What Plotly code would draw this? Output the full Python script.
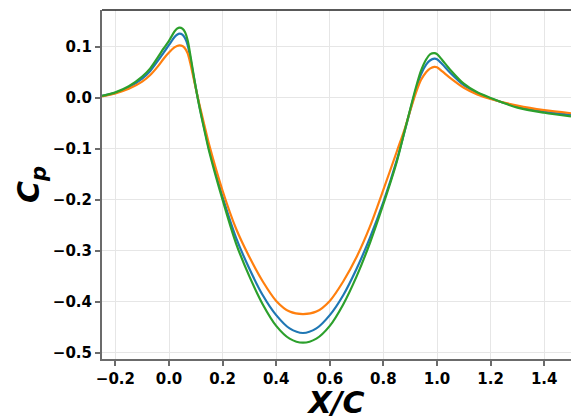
import plotly.graph_objects as go

x_c = [-0.25, -0.2, -0.15, -0.1, -0.07, -0.04, -0.02, 0.0,
       0.02, 0.03, 0.04, 0.05, 0.06, 0.07, 0.08, 0.09, 0.1,
       0.11, 0.12, 0.135, 0.15,
       0.2, 0.25, 0.3, 0.35, 0.4, 0.45, 0.5,
       0.55, 0.6, 0.65, 0.7, 0.75, 0.8, 0.85,
       0.88, 0.9, 0.92, 0.94, 0.96, 0.975, 0.99,
       1.0, 1.02, 1.05, 1.1, 1.15, 1.2, 1.3, 1.4, 1.5]

cp_blue = [0.004, 0.010, 0.021, 0.038, 0.053, 0.074, 0.089, 0.104,
           0.119, 0.124, 0.126, 0.124, 0.117, 0.103, 0.077, 0.048, 0.020,
           -0.007, -0.032, -0.067, -0.101,
           -0.194, -0.274, -0.335, -0.387, -0.426, -0.452, -0.461,
           -0.452, -0.426, -0.387, -0.335, -0.274, -0.204, -0.122,
           -0.064, -0.024, 0.014, 0.046, 0.066, 0.074, 0.077,
           0.076, 0.066, 0.049, 0.025, 0.010, -0.001, -0.017, -0.027, -0.033]

cp_orange = [0.003, 0.009, 0.018, 0.032, 0.045, 0.063, 0.077, 0.089,
             0.099, 0.102, 0.103, 0.102, 0.097, 0.087, 0.067, 0.043, 0.019,
             -0.005, -0.027, -0.060, -0.092,
             -0.182, -0.256, -0.312, -0.360, -0.398, -0.419, -0.424,
             -0.419, -0.398, -0.360, -0.312, -0.252, -0.180, -0.105,
             -0.060, -0.025, 0.008, 0.035, 0.051, 0.058, 0.061,
             0.060, 0.052, 0.039, 0.020, 0.007, -0.002, -0.015, -0.024, -0.030]

cp_green = [0.004, 0.011, 0.023, 0.042, 0.058, 0.081, 0.097, 0.112,
            0.130, 0.136, 0.138, 0.136, 0.129, 0.112, 0.083, 0.051, 0.020,
            -0.008, -0.034, -0.070, -0.105,
            -0.200, -0.285, -0.350, -0.405, -0.447, -0.472, -0.480,
            -0.472, -0.447, -0.405, -0.350, -0.284, -0.208, -0.125,
            -0.063, -0.022, 0.018, 0.053, 0.076, 0.086, 0.088,
            0.086, 0.074, 0.055, 0.028, 0.011, 0.000, -0.019, -0.029, -0.036]

x_ticks = [-0.2, 0.0, 0.2, 0.4, 0.6, 0.8, 1.0, 1.2, 1.4]
x_labels = ["\u22120.2", "0.0", "0.2", "0.4", "0.6", "0.8", "1.0", "1.2", "1.4"]
y_ticks = [-0.5, -0.4, -0.3, -0.2, -0.1, 0.0, 0.1]
y_labels = ["\u22120.5", "\u22120.4", "\u22120.3", "\u22120.2", "\u22120.1", "0.0", "0.1"]

series = [("blue", cp_blue, "#1f77b4"), ("orange", cp_orange, "#ff7f0e"), ("green", cp_green, "#2ca02c")]

fig = go.Figure()
for name, ys, col in series:
    fig.add_trace(go.Scatter(x=x_c, y=ys, mode="lines", name=name,
                             line=dict(color=col, width=2.2, shape="spline", smoothing=0.8)))

font_main = "DejaVu Sans"
axis_common = dict(
    showgrid=True, gridcolor="#e6e6e6", gridwidth=1,
    showline=True, linecolor="#6b6b6b", linewidth=2,
    ticks="outside", ticklen=5, tickcolor="#6b6b6b", tickwidth=1.5,
    zeroline=False, automargin=False,
    tickfont=dict(family=font_main, size=15, color="black"),
)
fig.update_layout(
    width=571, height=420,
    margin=dict(l=102, r=0, t=10, b=61, autoexpand=False),
    paper_bgcolor="white", plot_bgcolor="white",
    showlegend=False,
    font=dict(family=font_main, color="black"),
    xaxis=dict(range=[-0.25, 1.5], tickvals=x_ticks,
               ticktext=["<b>%s</b>" % t for t in x_labels],
               title=dict(text="<b><i>X/C</i></b>", font=dict(family=font_main, size=30, color="black"),
                          standoff=0),
               **axis_common),
    yaxis=dict(range=[-0.512, 0.1725], tickvals=y_ticks,
               ticktext=["<b>%s</b>" % t for t in y_labels],
               title=dict(text="<b><i>C<sub>p</sub></i></b>", font=dict(family=font_main, size=30, color="black"),
                          standoff=4),
               **axis_common),
    shapes=[dict(type="line", xref="paper", yref="paper", x0=0, x1=1, y0=1, y1=1,
                 line=dict(color="#222222", width=1.5))],
)

fig.write_html("out.html", config={"displayModeBar": False},
               post_script="document.body.style.margin='0px';document.body.style.overflow='hidden';")
